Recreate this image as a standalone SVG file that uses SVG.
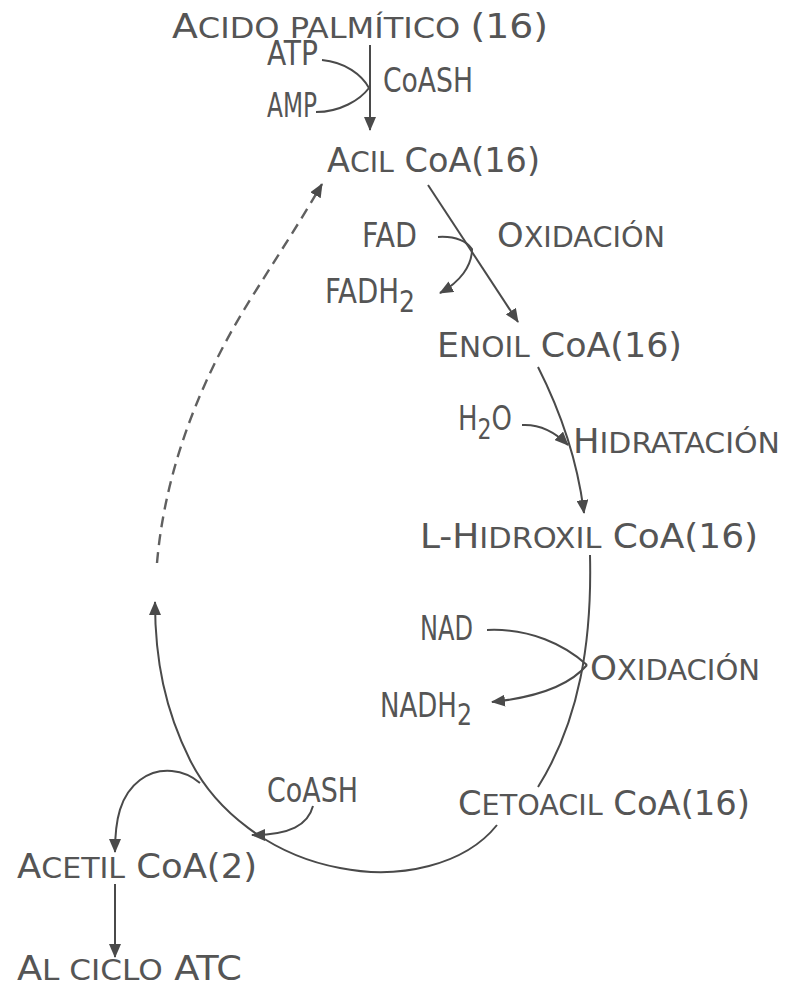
<svg xmlns="http://www.w3.org/2000/svg" width="787" height="991" viewBox="0 0 787 991">
<defs>
<marker id="ah" viewBox="0 0 14 12" refX="13" refY="6" markerWidth="14" markerHeight="12" markerUnits="userSpaceOnUse" orient="auto">
<path d="M0 0 L14 6 L0 12 Z" fill="#4a4a4a"/>
</marker>
</defs>
<style>
text{font-family:"DejaVu Sans Condensed","Liberation Sans Narrow","Liberation Sans",sans-serif;fill:#555;font-size:33px}
.sc{font-size:28px}
.con path{fill:none;stroke:#4a4a4a;stroke-width:2}
.con .dash{stroke-dasharray:11 7;stroke:#606060;stroke-width:2.4}
</style>
<rect width="787" height="991" fill="#fff"/>
<g class="con" id="connectors">
<path d="M370 45 L370 130" marker-end="url(#ah)"/>
<path d="M322 60 C345 62 362 75 369 88"/>
<path d="M316 112 C340 112 360 100 369 88"/>
<path d="M428 185 L518 322" marker-end="url(#ah)"/>
<path d="M438 237 C455 236 466 241 472 249 C472 266 460 282 440 293" marker-end="url(#ah)"/>
<path d="M538 367 Q575 440 584 513" marker-end="url(#ah)"/>
<path d="M522 425 C540 424 555 432 568 445" marker-end="url(#ah)"/>
<path d="M590 555 C592 640 580 720 538 787"/>
<path d="M487 630 C530 628 565 645 587 665"/>
<path d="M587 665 C570 685 540 697 492 702" marker-end="url(#ah)"/>
<path d="M497 825 C465 865 400 880 340 868 C270 855 215 810 190 760 C165 710 155 660 155 602" marker-end="url(#ah)"/>
<path d="M200 783 C185 770 160 765 140 780 C120 795 115 820 115 852" marker-end="url(#ah)"/>
<path d="M313 806 C308 825 290 835 252 835" marker-end="url(#ah)"/>
<path d="M115 884 L115 957" marker-end="url(#ah)"/>
<path class="dash" d="M157 563 C165 470 200 380 250 300 C275 260 300 222 322 184" marker-end="url(#ah)"/>
</g>
<g id="acido"><text x="172" y="38" textLength="376" lengthAdjust="spacingAndGlyphs">A<tspan class="sc">CIDO PALMÍTICO </tspan>(16)</text></g>
<g id="atp"><text x="267" y="65" font-size="25" textLength="51" lengthAdjust="spacingAndGlyphs">ATP</text></g>
<g id="amp"><text x="267" y="117" font-size="25" textLength="50" lengthAdjust="spacingAndGlyphs">AMP</text></g>
<g id="coash1"><text x="383" y="92" font-size="30" textLength="90" lengthAdjust="spacingAndGlyphs">CoASH</text></g>
<g id="acil"><text x="327" y="172" textLength="213" lengthAdjust="spacingAndGlyphs">A<tspan class="sc">CIL</tspan> CoA(16)</text></g>
<g id="fad"><text x="362" y="247" font-size="34" textLength="55" lengthAdjust="spacingAndGlyphs">FAD</text></g>
<g id="ox1"><text x="497" y="247" textLength="168" lengthAdjust="spacingAndGlyphs">O<tspan class="sc">XIDACIÓN</tspan></text></g>
<g id="fadh2"><text x="325" y="303" font-size="34" textLength="90" lengthAdjust="spacingAndGlyphs">FADH<tspan dy="9" font-size="30">2</tspan></text></g>
<g id="enoil"><text x="437" y="357" textLength="245" lengthAdjust="spacingAndGlyphs">E<tspan class="sc">NOIL</tspan> CoA(16)</text></g>
<g id="h2o"><text x="458" y="430" font-size="33" textLength="54" lengthAdjust="spacingAndGlyphs">H<tspan dy="9" font-size="28">2</tspan><tspan dy="-9">O</tspan></text></g>
<g id="hidrat"><text x="573" y="453" textLength="207" lengthAdjust="spacingAndGlyphs">H<tspan class="sc">IDRATACIÓN</tspan></text></g>
<g id="lhidroxil"><text x="420" y="548" textLength="338" lengthAdjust="spacingAndGlyphs">L-H<tspan class="sc">IDROXIL</tspan> CoA(16)</text></g>
<g id="nad"><text x="420" y="640" font-size="35" textLength="53" lengthAdjust="spacingAndGlyphs">NAD</text></g>
<g id="ox2"><text x="590" y="680" font-size="31" textLength="170" lengthAdjust="spacingAndGlyphs">O<tspan class="sc">XIDACIÓN</tspan></text></g>
<g id="nadh2"><text x="380" y="717" font-size="35" textLength="92" lengthAdjust="spacingAndGlyphs">NADH<tspan dy="8" font-size="30">2</tspan></text></g>
<g id="cetoacil"><text x="458" y="815" font-size="35" textLength="292" lengthAdjust="spacingAndGlyphs">C<tspan class="sc">ETOACIL</tspan> CoA(16)</text></g>
<g id="coash2"><text x="267" y="802" font-size="35" textLength="91" lengthAdjust="spacingAndGlyphs">CoASH</text></g>
<g id="acetil"><text x="17" y="878" font-size="36" textLength="240" lengthAdjust="spacingAndGlyphs">A<tspan class="sc">CETIL</tspan> CoA(2)</text></g>
<g id="atc"><text x="17" y="980" font-size="35" textLength="225" lengthAdjust="spacingAndGlyphs">A<tspan class="sc">L CICLO</tspan> ATC</text></g>
</svg>
